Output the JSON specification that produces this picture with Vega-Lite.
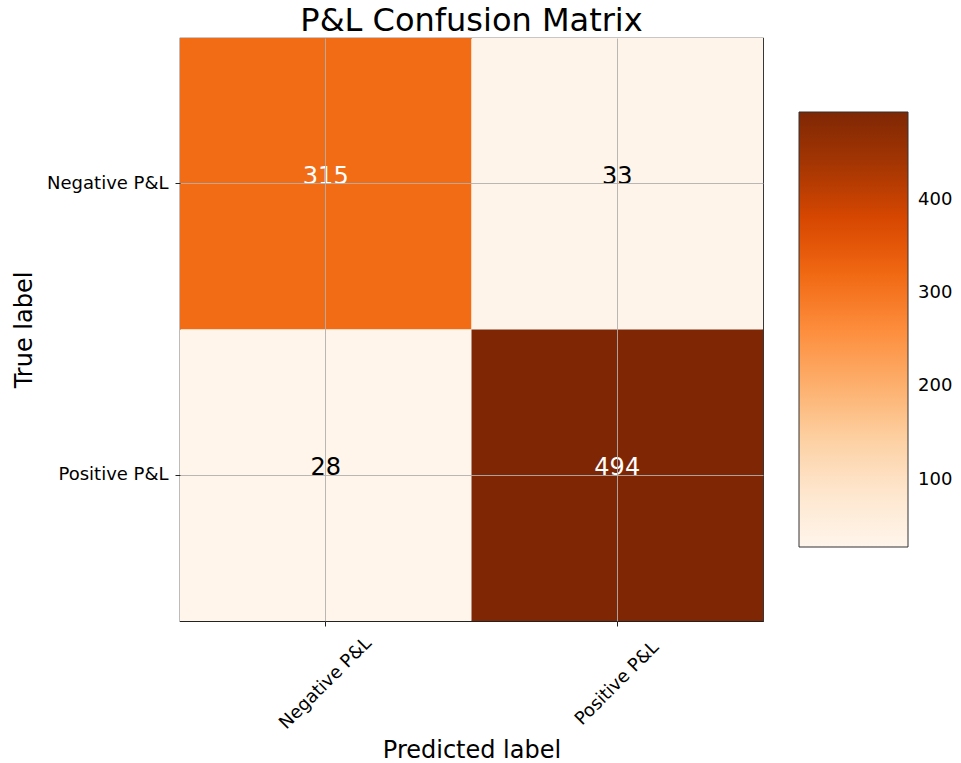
{
  "$schema": "https://vega.github.io/schema/vega-lite/v6.json",
  "autosize": {"type": "none"},
  "padding": {"left": 180, "top": 38, "right": 198, "bottom": 142},
  "width": 583,
  "height": 583,
  "background": "white",
  "title": {
    "text": "P&L Confusion Matrix",
    "fontSize": 32,
    "fontWeight": "normal",
    "font": "DejaVu Sans",
    "color": "black",
    "baseline": "alphabetic",
    "offset": 5,
    "dy": 30,
    "anchor": "middle"
  },
  "config": {
    "font": "DejaVu Sans",
    "view": {"stroke": "#222", "strokeWidth": 1.2},
    "axis": {
      "labelFont": "DejaVu Sans",
      "titleFont": "DejaVu Sans",
      "labelColor": "black",
      "titleColor": "black",
      "titleFontWeight": "normal",
      "labelFontSize": 18,
      "titleFontSize": 24,
      "tickSize": 5,
      "tickColor": "#222",
      "tickWidth": 1,
      "domain": false,
      "gridColor": "#b0b0b0",
      "gridWidth": 0.9
    }
  },
  "data": {
    "values": [
      {"true_label": "Negative P&L", "predicted_label": "Negative P&L", "count": 315},
      {"true_label": "Negative P&L", "predicted_label": "Positive P&L", "count": 33},
      {"true_label": "Positive P&L", "predicted_label": "Negative P&L", "count": 28},
      {"true_label": "Positive P&L", "predicted_label": "Positive P&L", "count": 494}
    ]
  },
  "encoding": {
    "x": {
      "field": "predicted_label",
      "type": "nominal",
      "sort": ["Negative P&L", "Positive P&L"],
      "scale": {"paddingInner": 0, "paddingOuter": 0},
      "axis": {
        "title": "Predicted label",
        "grid": true,
        "bandPosition": 0.5,
        "zindex": 1,
        "labelAngle": -45,
        "labelAlign": "center",
        "labelBaseline": "middle",
        "labelPadding": 57,
        "titlePadding": 6
      }
    },
    "y": {
      "field": "true_label",
      "type": "nominal",
      "sort": ["Negative P&L", "Positive P&L"],
      "scale": {"paddingInner": 0, "paddingOuter": 0},
      "axis": {
        "title": "True label",
        "grid": true,
        "bandPosition": 0.5,
        "zindex": 1,
        "labelPadding": 7,
        "titlePadding": 10
      }
    }
  },
  "layer": [
    {
      "mark": {"type": "rect"},
      "encoding": {
        "color": {
          "field": "count",
          "type": "quantitative",
          "scale": {
            "type": "linear",
            "domain": [28, 86.25, 144.5, 202.75, 261, 319.25, 377.5, 435.75, 494],
            "range": ["#fff5eb", "#fee6ce", "#fdd0a2", "#fdae6b", "#fd8d3c", "#f16913", "#d94801", "#a63603", "#7f2704"],
            "interpolate": "rgb"
          },
          "legend": {
            "orient": "none",
            "legendX": 619,
            "legendY": 74,
            "direction": "vertical",
            "title": null,
            "gradientLength": 435,
            "gradientThickness": 109,
            "gradientStrokeColor": "#333",
            "gradientStrokeWidth": 1,
            "values": [100, 200, 300, 400],
            "labelFontSize": 18,
            "labelFont": "DejaVu Sans",
            "labelColor": "black",
            "labelOffset": 10,
            "padding": 0
          }
        }
      }
    },
    {
      "mark": {"type": "text", "fontSize": 24, "font": "DejaVu Sans", "baseline": "alphabetic", "align": "center"},
      "encoding": {
        "text": {"field": "count", "type": "quantitative"},
        "color": {
          "condition": {"test": "datum.count > 247", "value": "white"},
          "value": "black"
        }
      }
    }
  ]
}
